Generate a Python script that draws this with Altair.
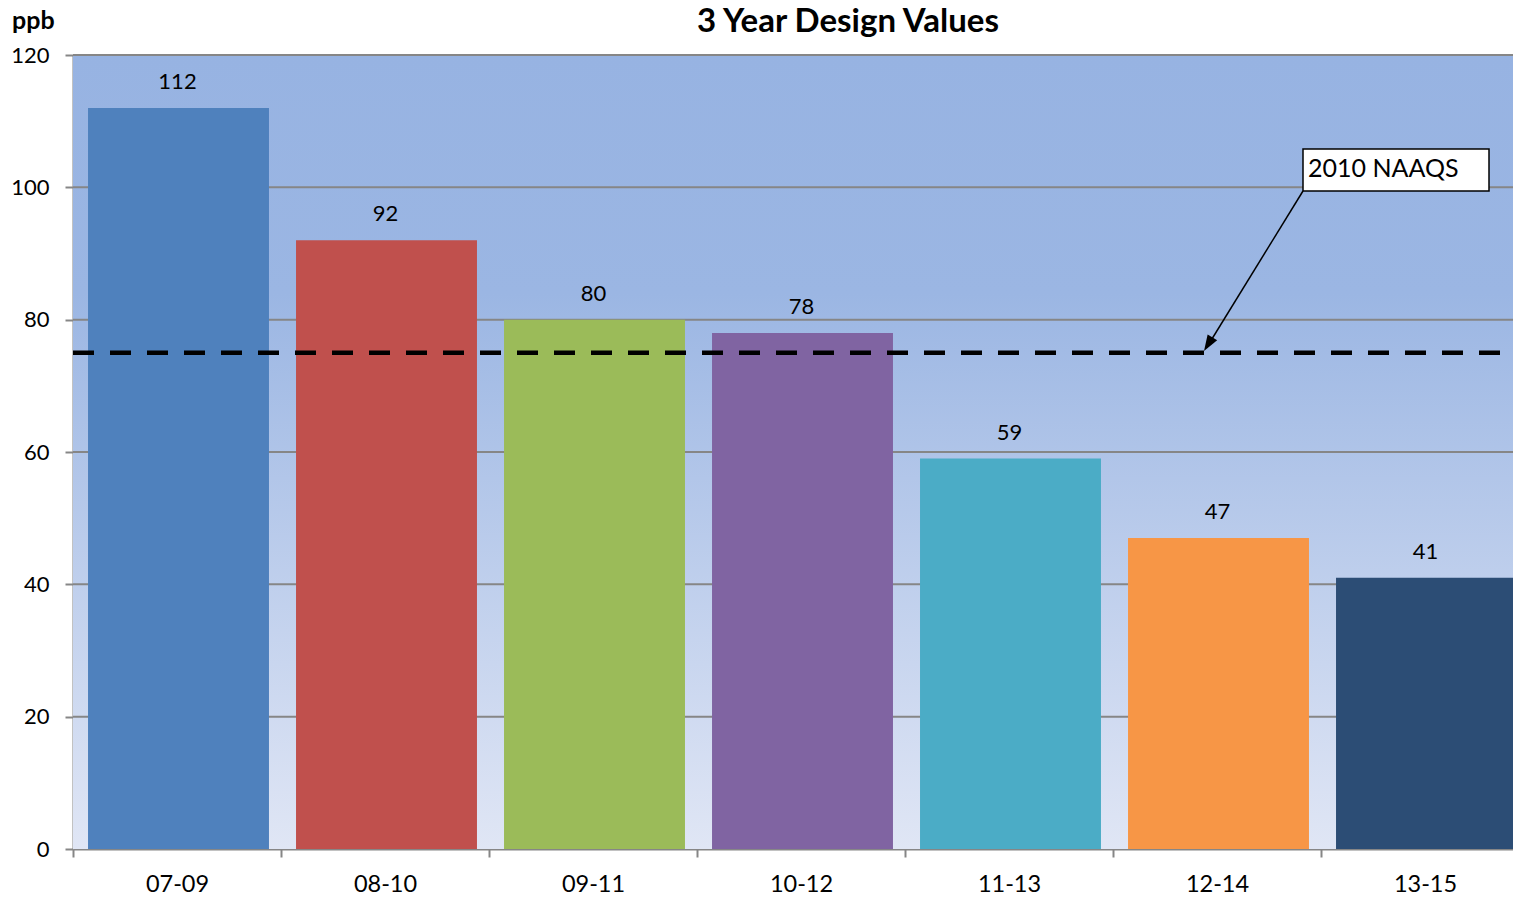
import altair as alt
import pandas as pd

periods = ["07-09", "08-10", "09-11", "10-12", "11-13", "12-14", "13-15"]
values = [112, 92, 80, 78, 59, 47, 41]
bar_colors = ["#4F81BD", "#C0504D", "#9BBB59", "#8064A2", "#4BACC6", "#F79646", "#2C4D75"]
y_ticks = [0, 20, 40, 60, 80, 100, 120]
grid_values = [20, 40, 60, 80, 100, 120]
standard_value = 75
standard_label = "2010 NAAQS"
title_text = "3 Year Design Values"
unit_text = "ppb"

FONT = "Lato"
W, H = 1440, 794
GRID = "#868686"

df = pd.DataFrame({"period": periods, "value": values})
grid_df = pd.DataFrame({"g": grid_values})

yscale = alt.Scale(domain=[0, 120], nice=False)
yaxis = alt.Axis(
    title="", values=y_ticks, grid=False,
    tickSize=8, tickWidth=2, tickColor=GRID, domainColor=GRID, domainWidth=2,
    labelFontSize=22, labelColor="black", labelFont=FONT, labelPadding=16,
)

xenc = alt.X(
    "period:N",
    sort=periods,
    scale=alt.Scale(range=[0, 1456], paddingInner=0, paddingOuter=0),
    axis=alt.Axis(
        title="", labelAngle=0, tickBand="extent", tickSize=8, tickWidth=2,
        tickColor=GRID, domainColor=GRID, domainWidth=2, labelFontSize=23.5,
        labelColor="black", labelFont=FONT, labelPadding=15, grid=False,
    ),
)

bg = alt.Chart(pd.DataFrame({"a": [0]})).mark_rect(
    fill={
        "gradient": "linear", "x1": 0, "y1": 0, "x2": 0, "y2": 1,
        "stops": [
            {"offset": 0, "color": "#97B3E2"},
            {"offset": 0.3, "color": "#9BB6E3"},
            {"offset": 1, "color": "#E0E6F5"},
        ],
    }
).encode(x=alt.value(0), x2=alt.value(W), y=alt.value(0), y2=alt.value(H))

grid = alt.Chart(grid_df).mark_rule(color=GRID, strokeWidth=2).encode(
    y=alt.Y("g:Q", scale=yscale, axis=yaxis)
)

bars = alt.Chart(df).mark_bar(width=alt.RelativeBandSize(0.87), xOffset=1.5).encode(
    x=xenc,
    y=alt.Y("value:Q", scale=yscale, axis=yaxis),
    color=alt.Color("period:N", scale=alt.Scale(domain=periods, range=bar_colors), legend=None),
)

labels = alt.Chart(df).mark_text(
    fontSize=22, font=FONT, color="black", baseline="alphabetic", dy=-19, dx=0.5
).encode(x=alt.X("period:N", sort=periods), y=alt.Y("value:Q", scale=yscale), text="value:Q")

std = alt.Chart(pd.DataFrame({"v": [standard_value]})).mark_rule(
    color="black", strokeWidth=4.5, strokeDash=[21, 16], strokeCap="butt"
).encode(x=alt.value(0), x2=alt.value(W), y=alt.Y("v:Q", scale=yscale))

arrow = alt.Chart(pd.DataFrame({"a": [0]})).mark_rule(color="black", strokeWidth=1.5).encode(
    x=alt.value(1230), y=alt.value(136), x2=alt.value(1134), y2=alt.value(292)
)
head = alt.Chart(pd.DataFrame({"a": [0]})).mark_point(
    shape="M0,0L-0.7,2L0.7,2Z", filled=True, color="black", opacity=1, size=256, angle=211.7
).encode(x=alt.value(1131), y=alt.value(296))

box = alt.Chart(pd.DataFrame({"a": [0]})).mark_rect(
    fill="white", stroke="black", strokeWidth=1.5
).encode(x=alt.value(1230), x2=alt.value(1416), y=alt.value(94), y2=alt.value(136))

box_text = alt.Chart(pd.DataFrame({"t": [standard_label]})).mark_text(
    fontSize=25, font=FONT, color="black", align="left", baseline="middle"
).encode(x=alt.value(1235), y=alt.value(114), text="t:N")

title = alt.Chart(pd.DataFrame({"t": [title_text]})).mark_text(
    fontSize=33, font=FONT, fontWeight="bold", color="black", align="center", baseline="middle"
).encode(x=alt.value(775), y=alt.value(-33), text="t:N")

unit = alt.Chart(pd.DataFrame({"t": [unit_text]})).mark_text(
    fontSize=25, font=FONT, fontWeight="bold", color="black", align="left", baseline="middle"
).encode(x=alt.value(-61), y=alt.value(-34), text="t:N")

chart = alt.layer(
    bg, grid, bars, labels, std, arrow, head, box, box_text, title, unit
).properties(
    width=W, height=H,
    autosize=alt.AutoSizeParams(type="none"),
    padding={"left": 73, "top": 55, "right": 0, "bottom": 51},
    background="white",
).configure_view(strokeWidth=0)

chart.save("out.html", embed_options={"renderer": "svg", "actions": False})
